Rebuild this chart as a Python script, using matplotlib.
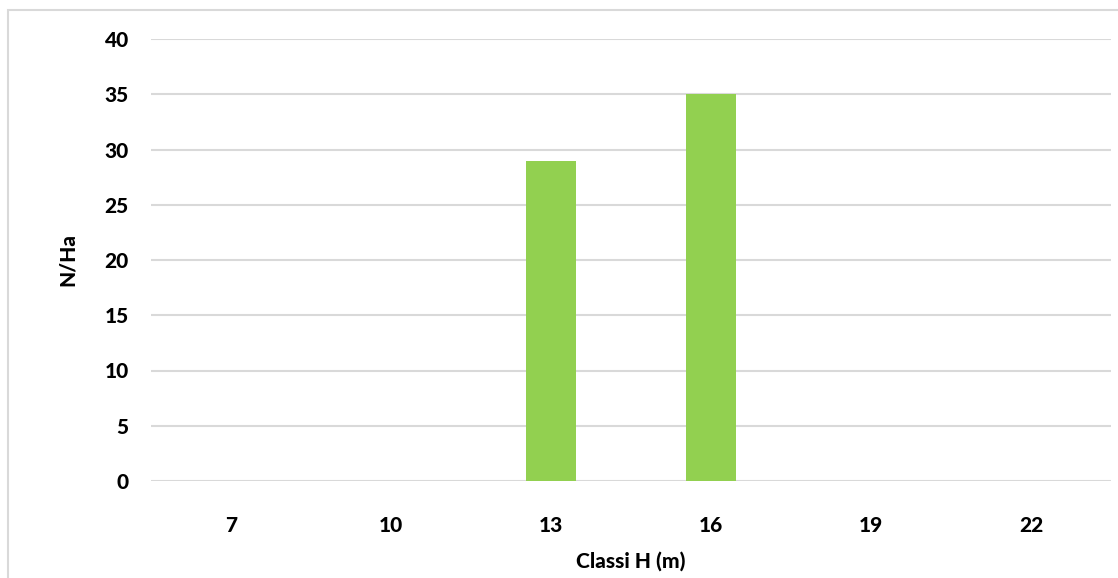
import matplotlib
matplotlib.use("Agg")
import matplotlib.pyplot as plt
from matplotlib.patches import Rectangle

categories = ["7", "10", "13", "16", "19", "22"]
values = [0, 0, 29, 35, 0, 0]
yticks = [0, 5, 10, 15, 20, 25, 30, 35, 40]

plt.rcParams['font.family'] = ['Lato', 'DejaVu Sans']

W, H = 1118, 578
fig = plt.figure(figsize=(W/100, H/100), dpi=100)
fig.patches.append(Rectangle((8/W, -0.1), 1.2, 1 - 10/H + 0.1, transform=fig.transFigure,
                             fill=False, edgecolor='#d9d9d9', linewidth=1.5))

ax = fig.add_axes([151/W, 1 - 481/H, (1111-151)/W, (481-39)/H])
x = range(len(categories))
ax.bar(x, values, width=0.31, color='#92d050', zorder=3)
ax.set_xlim(-0.5, len(categories) - 0.5)
ax.set_ylim(0, 40)
ax.set_yticks(yticks)
ax.set_xticks(list(x))
ax.set_xticklabels(categories)
ax.grid(axis='y', color='#d9d9d9', linewidth=1.5, zorder=0)
for s in ax.spines.values():
    s.set_visible(False)
ax.tick_params(length=0, labelsize=15)
ax.tick_params(axis='y', pad=16)
ax.tick_params(axis='x', pad=25)
for lbl in ax.get_xticklabels() + ax.get_yticklabels():
    lbl.set_fontweight('black')
ax.set_xlabel("Classi H (m)", fontsize=15, fontweight='black', labelpad=12)
ax.set_ylabel("N/Ha", fontsize=15, fontweight='black', labelpad=20)

fig.savefig("out.png", dpi=100)
